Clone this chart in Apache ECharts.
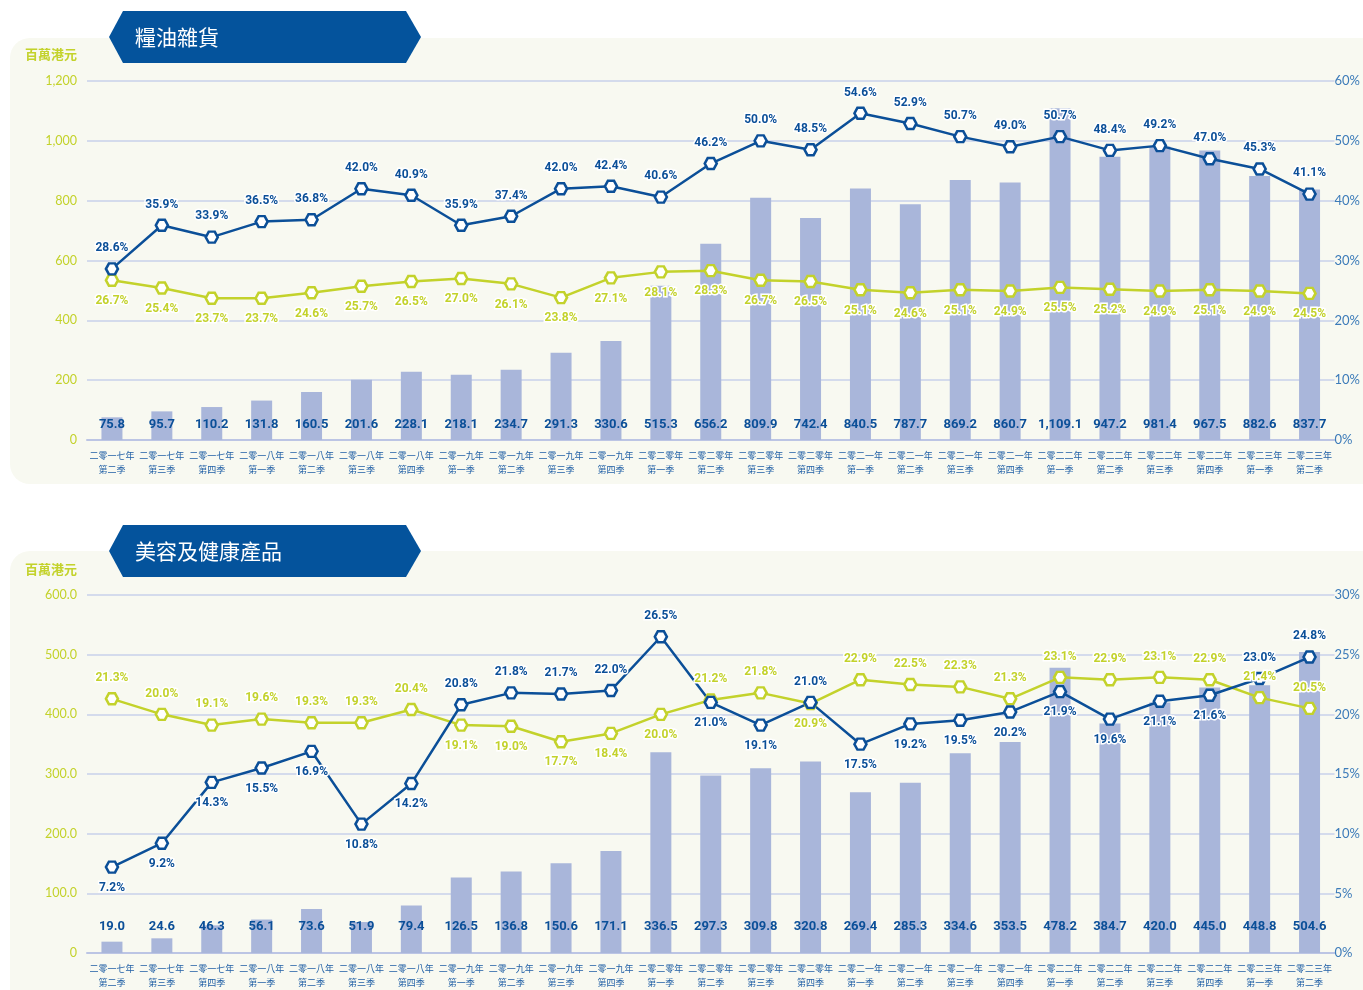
<!DOCTYPE html>
<html>
<head>
<meta charset="utf-8">
<script src="https://cdn.jsdelivr.net/npm/echarts@6/dist/echarts.min.js"></script>
<style>
    html, body { margin: 0; padding: 0; background: #ffffff; }
    #chart { width: 1363px; height: 990px; }
</style>
</head>
<body>
<div id="chart"></div>
<script>
// 季度
var quarters = [
    '二零一七年\n第二季', '二零一七年\n第三季', '二零一七年\n第四季',
    '二零一八年\n第一季', '二零一八年\n第二季', '二零一八年\n第三季', '二零一八年\n第四季',
    '二零一九年\n第一季', '二零一九年\n第二季', '二零一九年\n第三季', '二零一九年\n第四季',
    '二零二零年\n第一季', '二零二零年\n第二季', '二零二零年\n第三季', '二零二零年\n第四季',
    '二零二一年\n第一季', '二零二一年\n第二季', '二零二一年\n第三季', '二零二一年\n第四季',
    '二零二二年\n第一季', '二零二二年\n第二季', '二零二二年\n第三季', '二零二二年\n第四季',
    '二零二三年\n第一季', '二零二三年\n第二季'
];

// 糧油雜貨
var groceryTitle = '糧油雜貨';
var grocerySales = [75.8, 95.7, 110.2, 131.8, 160.5, 201.6, 228.1, 218.1, 234.7, 291.3, 330.6, 515.3, 656.2,
    809.9, 742.4, 840.5, 787.7, 869.2, 860.7, 1109.1, 947.2, 981.4, 967.5, 882.6, 837.7];
var groceryBlue = [28.6, 35.9, 33.9, 36.5, 36.8, 42.0, 40.9, 35.9, 37.4, 42.0, 42.4, 40.6, 46.2,
    50.0, 48.5, 54.6, 52.9, 50.7, 49.0, 50.7, 48.4, 49.2, 47.0, 45.3, 41.1];
var groceryGreen = [26.7, 25.4, 23.7, 23.7, 24.6, 25.7, 26.5, 27.0, 26.1, 23.8, 27.1, 28.1, 28.3,
    26.7, 26.5, 25.1, 24.6, 25.1, 24.9, 25.5, 25.2, 24.9, 25.1, 24.9, 24.5];
var groceryLeftTicks = {min: 0, max: 1200, interval: 200};
var groceryRightTicks = {min: 0, max: 60, interval: 10};

// 美容及健康產品
var beautyTitle = '美容及健康產品';
var beautySales = [19.0, 24.6, 46.3, 56.1, 73.6, 51.9, 79.4, 126.5, 136.8, 150.6, 171.1, 336.5, 297.3,
    309.8, 320.8, 269.4, 285.3, 334.6, 353.5, 478.2, 384.7, 420.0, 445.0, 448.8, 504.6];
var beautyBlue = [7.2, 9.2, 14.3, 15.5, 16.9, 10.8, 14.2, 20.8, 21.8, 21.7, 22.0, 26.5, 21.0,
    19.1, 21.0, 17.5, 19.2, 19.5, 20.2, 21.9, 19.6, 21.1, 21.6, 23.0, 24.8];
var beautyGreen = [21.3, 20.0, 19.1, 19.6, 19.3, 19.3, 20.4, 19.1, 19.0, 17.7, 18.4, 20.0, 21.2,
    21.8, 20.9, 22.9, 22.5, 22.3, 21.3, 23.1, 22.9, 23.1, 22.9, 21.4, 20.5];
var beautyLeftTicks = {min: 0, max: 600, interval: 100};
var beautyRightTicks = {min: 0, max: 30, interval: 5};

var unitText = '百萬港元';

// 標籤位置 (t = 上, b = 下)
var beautyBluePos = 'bbbbbbbttttt' + 'bbtbbbbbbbbtt';
var beautyGreenPos = 'tttttttbbbbb' + 'ttbtttttttttt';

var navy = '#0b4f98';
var lime = '#c3d22b';
var barColor = '#a9b6da';
var gridColor = '#c9d0ea';
var hexSymbol = 'path://M0,866 L500,0 L1500,0 L2000,866 L1500,1732 L500,1732 Z';
var numFont = "'Liberation Sans Narrow', 'Roboto', 'Noto Sans', sans-serif";
var cjkFont = "'Noto Sans CJK TC', 'Noto Sans CJK SC', sans-serif";

function fmtNum(v) {
    return v.toLocaleString('en-US', {minimumFractionDigits: 1, maximumFractionDigits: 1});
}

function posOf(str, i) {
    return str.charAt(i) === 'b' ? 'bottom' : 'top';
}

var myChart = echarts.init(document.getElementById('chart'));

function makeXAxis(idx) {
    return {
        type: 'category',
        gridIndex: idx,
        data: quarters,
        axisTick: {show: false},
        axisLine: {lineStyle: {color: '#bcc5e4', width: 2}},
        axisLabel: {
            color: '#2160a6',
            fontSize: 9,
            lineHeight: 14,
            margin: 9,
            interval: 0,
            fontFamily: cjkFont
        }
    };
}

function makeLeftAxis(idx, ticks, fmt) {
    return {
        type: 'value',
        gridIndex: idx,
        min: ticks.min,
        max: ticks.max,
        interval: ticks.interval,
        axisLine: {show: false},
        axisTick: {show: false},
        splitLine: {lineStyle: {color: gridColor, width: 1.5}},
        axisLabel: {
            color: lime,
            fontSize: 12.5,
            margin: 10,
            fontFamily: "'Lato', 'Noto Sans', sans-serif",
            formatter: fmt
        }
    };
}

function makeRightAxis(idx, ticks) {
    return {
        type: 'value',
        gridIndex: idx,
        position: 'right',
        min: ticks.min,
        max: ticks.max,
        interval: ticks.interval,
        axisLine: {show: false},
        axisTick: {show: false},
        splitLine: {show: false},
        axisLabel: {
            color: '#3c7bb9',
            fontSize: 13,
            margin: 0,
            fontFamily: "'Lato', 'Noto Sans', sans-serif",
            formatter: '{value}%'
        }
    };
}

function barSeries(idx, data, dist) {
    return {
        type: 'bar',
        xAxisIndex: idx,
        yAxisIndex: idx * 2,
        data: data,
        barWidth: 21,
        itemStyle: {color: barColor},
        label: {
            show: true,
            position: 'insideBottom',
            distance: dist,
            color: navy,
            fontSize: 13,
            fontWeight: 'bold',
            fontFamily: numFont,
            formatter: function (p) { return fmtNum(p.value); }
        },
        z: 2
    };
}

function lineSeries(idx, values, color, positions) {
    return {
        type: 'line',
        xAxisIndex: idx,
        yAxisIndex: idx * 2 + 1,
        data: values.map(function (v, i) {
            return {value: v, label: {position: positions(i)}};
        }),
        symbol: hexSymbol,
        symbolSize: [12, 11],
        lineStyle: {color: color, width: 2.5},
        itemStyle: {color: '#ffffff', borderColor: color, borderWidth: 2.5},
        label: {
            show: true,
            color: color,
            fontSize: 12,
            fontWeight: 'bold',
            fontFamily: numFont,
            distance: 8,
            textBorderColor: '#ffffff',
            textBorderWidth: 3,
            formatter: function (p) { return p.value.toFixed(1) + '%'; }
        },
        z: 5
    };
}

function banner(y, text) {
    return {
        type: 'group',
        z: 10,
        children: [
            {
                type: 'polygon',
                shape: {points: [[109, y + 26], [123, y], [406, y], [421, y + 26], [406, y + 52], [123, y + 52]]},
                style: {fill: '#04539c'}
            },
            {
                type: 'text',
                x: 135,
                y: y + 26,
                style: {
                    text: text, fill: '#ffffff', fontSize: 21, fontFamily: cjkFont,
                    verticalAlign: 'middle', align: 'left'
                },
                z: 11
            }
        ]
    };
}

var option = {
    backgroundColor: '#ffffff',
    animation: false,
    title: [
        {
            text: unitText, left: 20, top: 43,
            textStyle: {color: lime, fontSize: 13, fontWeight: 'bold', fontFamily: cjkFont}
        },
        {
            text: unitText, left: 20, top: 558,
            textStyle: {color: lime, fontSize: 13, fontWeight: 'bold', fontFamily: cjkFont}
        }
    ],
    graphic: [
        {type: 'rect', shape: {x: 10, y: 38, width: 1380, height: 446, r: 20}, style: {fill: '#f8f9f1'}, z: -10},
        {type: 'rect', shape: {x: 10, y: 551, width: 1380, height: 460, r: 20}, style: {fill: '#f8f9f1'}, z: -10},
        banner(11, groceryTitle),
        banner(525, beautyTitle)
    ],
    grid: [
        {left: 87, top: 81, width: 1251, height: 359},
        {left: 87, top: 595, width: 1251, height: 358}
    ],
    xAxis: [makeXAxis(0), makeXAxis(1)],
    yAxis: [
        makeLeftAxis(0, groceryLeftTicks, function (v) { return v.toLocaleString('en-US'); }),
        makeRightAxis(0, groceryRightTicks),
        makeLeftAxis(1, beautyLeftTicks, function (v) { return v === 0 ? '0' : v.toFixed(1); }),
        makeRightAxis(1, beautyRightTicks)
    ],
    series: [
        barSeries(0, grocerySales, 9),
        lineSeries(0, groceryGreen, lime, function () { return 'bottom'; }),
        lineSeries(0, groceryBlue, navy, function () { return 'top'; }),
        barSeries(1, beautySales, 20),
        lineSeries(1, beautyGreen, lime, function (i) { return posOf(beautyGreenPos, i); }),
        lineSeries(1, beautyBlue, navy, function (i) { return posOf(beautyBluePos, i); })
    ]
};
myChart.setOption(option);
</script>
</body>
</html>
